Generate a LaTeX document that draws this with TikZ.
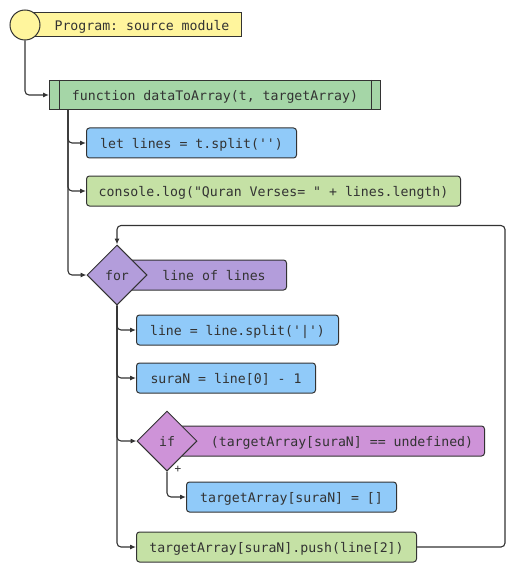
\documentclass[tikz,border=0pt]{standalone}
\usepackage{fontspec}
\setmonofont{DejaVu Sans Mono}
\usetikzlibrary{shapes.geometric,arrows.meta,calc}
\definecolor{ink}{HTML}{333333}
\definecolor{progfill}{HTML}{FFF59D}
\definecolor{funcfill}{HTML}{A5D6A7}
\definecolor{stmtfill}{HTML}{90CAF9}
\definecolor{callfill}{HTML}{C5E1A5}
\definecolor{forfill}{HTML}{B39DDB}
\definecolor{iffill}{HTML}{CE93D8}
\tikzset{
  x=1pt, y=-1pt,
  every node/.style={font=\ttfamily\fontsize{13.2}{15}\selectfont, text=ink,
    text height=12.5pt, text depth=2pt},
  box/.style={draw=ink, line width=1pt, rounded corners=3pt, minimum height=30pt,
    inner sep=0pt, anchor=west},
  stmt/.style={box, fill=stmtfill},
  call/.style={box, fill=callfill},
  bar/.style={draw=ink, line width=1pt, rounded corners=3pt, minimum height=30pt,
    inner sep=0pt, anchor=west},
  decision/.style={diamond, draw=ink, line width=1pt, minimum width=60pt,
    minimum height=60pt, inner sep=0pt, aspect=1},
  link/.style={draw=ink, line width=1.1pt, rounded corners=4pt},
  arrow/.style={link, -{Latex[length=6pt,width=5pt]}},
}
\begin{document}
\begin{tikzpicture}
\useasboundingbox (0,0) rectangle (510,588);

% program header
\node[draw=ink, line width=1pt, fill=progfill, minimum width=216pt, minimum height=24pt,
  inner sep=0pt, anchor=west] (prog) at (25,25) {};
\node (progtext) at (142,25) {Program: source module};
\node[circle, draw=ink, line width=1pt, fill=progfill, minimum size=30pt, inner sep=0pt]
  (start) at (25,25) {};

% function block with side bars
\node[draw=ink, line width=1pt, fill=funcfill, minimum width=331pt, minimum height=29pt,
  inner sep=0pt, anchor=west] (func) at (49,95) {function dataToArray(t, targetArray)};
\draw[ink, line width=1pt] ($(func.north west)+(10,0)$) -- ($(func.south west)+(10,0)$);
\draw[ink, line width=1pt] ($(func.north east)+(-10,0)$) -- ($(func.south east)+(-10,0)$);

% body of the function
\node[stmt, minimum width=210pt] (lines) at (86,143) {let lines = t.split('')};
\node[call, minimum width=374pt] (log) at (86,191) {console.log("Quran Verses= " + lines.length)};

% for loop
\node[bar, fill=forfill, minimum width=169pt] (forbar) at (117,275) {};
\node[decision, fill=forfill] (for) at (117,275) {for};
\node (forlabel) at (214,275) {line of lines};

\node[stmt, minimum width=202pt] (split) at (136,330) {line = line.split('|')};
\node[stmt, minimum width=179pt] (sura) at (136,378) {suraN = line[0] - 1};

% if test
\node[bar, fill=iffill, minimum width=317pt] (ifbar) at (167,441) {};
\node[decision, fill=iffill] (if) at (167,441) {if};
\node (iflabel) at (342,441) {(targetArray[suraN] == undefined)};
\node[font=\ttfamily\fontsize{11}{13}\selectfont, text height=8pt, text depth=0pt]
  (plus) at (178,468) {+};

\node[stmt, minimum width=210pt] (init) at (186,497) {targetArray[suraN] = []};
\node[call, minimum width=280pt] (push) at (136,547) {targetArray[suraN].push(line[2])};

% connectors
\draw[arrow] (start.south) |- (func.west);
\coordinate (trunk) at ($(func.south west)+(19,0)$);
\draw[arrow] (trunk) |- (lines.west);
\draw[arrow] (trunk) |- (log.west);
\draw[arrow] (trunk) |- (for.west);

\draw[arrow] (for.south) |- (split.west);
\draw[arrow] (for.south) |- (sura.west);
\draw[arrow] (for.south) |- (if.west);
\draw[arrow] (for.south) |- (push.west);

\draw[arrow] (if.south) |- (init.west);

% loop back to the head of the for
\coordinate (loopright) at ($(push.east)+(88,0)$);
\coordinate (looptop) at ($(for.north)+(0,-19)$);
\draw[arrow] (push.east) -- (loopright) |- (looptop) -- (for.north);
\end{tikzpicture}
\end{document}
